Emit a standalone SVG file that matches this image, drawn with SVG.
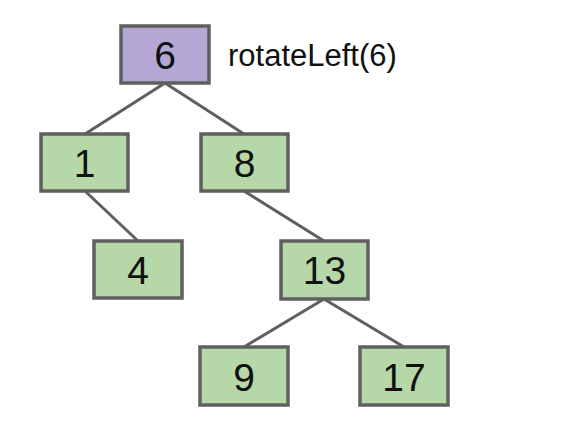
<svg xmlns="http://www.w3.org/2000/svg" width="575" height="440" viewBox="0 0 575 440">
<style>
.n rect{stroke:#5f5f5f;stroke-width:3.5}
.g rect{fill:#b6d7a8}
.p rect{fill:#b4a7d6}
.n text{font-family:"Liberation Sans",Arial,sans-serif;font-size:39px;fill:#111;text-anchor:middle}
#edges line{stroke:#5f5f5f;stroke-width:3}
.lbl{font-family:"Liberation Sans",Arial,sans-serif;font-size:31px;fill:#111}
</style>
<rect width="575" height="440" fill="#fff"/>
<g id="edges">
<line x1="165" y1="83" x2="85" y2="134"/>
<line x1="165" y1="83" x2="244" y2="134"/>
<line x1="85" y1="191" x2="138" y2="241"/>
<line x1="244" y1="191" x2="324" y2="241"/>
<line x1="324" y1="299" x2="244" y2="347"/>
<line x1="324" y1="299" x2="404" y2="347"/>
</g>
<g id="n6" class="n p"><rect x="121" y="26" width="88" height="57"/><text x="165" y="69">6</text></g>
<g id="n1" class="n g"><rect x="41" y="134" width="87" height="57"/><text x="84.5" y="177">1</text></g>
<g id="n8" class="n g"><rect x="201" y="134" width="87" height="57"/><text x="244.5" y="177">8</text></g>
<g id="n4" class="n g"><rect x="94" y="241" width="88" height="57"/><text x="138" y="284">4</text></g>
<g id="n13" class="n g"><rect x="281" y="241" width="87" height="58"/><text x="324.5" y="284">13</text></g>
<g id="n9" class="n g"><rect x="200" y="347" width="88" height="58"/><text x="244" y="391">9</text></g>
<g id="n17" class="n g"><rect x="360" y="347" width="88" height="58"/><text x="404" y="391">17</text></g>
<text class="lbl" x="228" y="66">rotateLeft(6)</text>
</svg>
